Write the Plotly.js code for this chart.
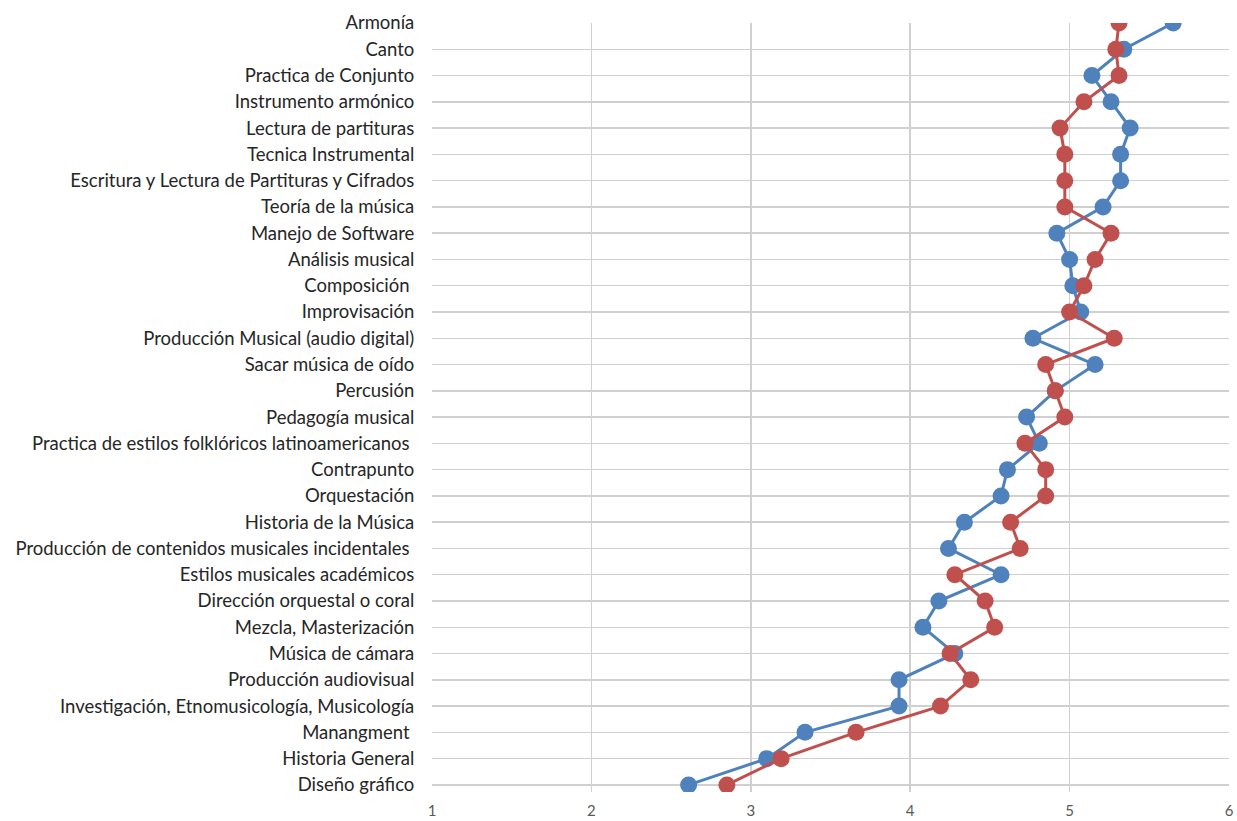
<!DOCTYPE html>
<html>
<head>
<meta charset="utf-8">
<script src="https://cdn.plot.ly/plotly-3.0.1.min.js"></script>
<style>html,body{margin:0;padding:0;background:#fff;}#chart{width:1237px;height:821px;}</style>
</head>
<body>
<div id="chart"></div>
<script>
const categories = [
  "Armonía","Canto","Practica de Conjunto","Instrumento armónico","Lectura de partituras",
  "Tecnica Instrumental","Escritura y Lectura de Partituras y Cifrados","Teoría de la música",
  "Manejo de Software","Análisis musical","Composición ","Improvisación",
  "Producción Musical (audio digital)","Sacar música de oído","Percusión","Pedagogía musical",
  "Practica de estilos folklóricos latinoamericanos ","Contrapunto","Orquestación",
  "Historia de la Música","Producción de contenidos musicales incidentales ",
  "Estilos musicales académicos","Dirección orquestal o coral","Mezcla, Masterización",
  "Música de cámara","Producción audiovisual","Investigación, Etnomusicología, Musicología",
  "Manangment ","Historia General","Diseño gráfico"
];
const seriesBlue = [5.65,5.34,5.14,5.26,5.38,5.32,5.32,5.21,4.92,5.00,5.02,5.07,4.77,5.16,4.91,4.73,4.81,4.61,4.57,4.34,4.24,4.57,4.18,4.08,4.28,3.93,3.93,3.34,3.10,2.61];
const seriesRed  = [5.31,5.29,5.31,5.09,4.94,4.97,4.97,4.97,5.26,5.16,5.09,5.00,5.28,4.85,4.91,4.97,4.72,4.85,4.85,4.63,4.69,4.28,4.47,4.53,4.25,4.38,4.19,3.66,3.19,2.85];
const xTicks = [1,2,3,4,5,6];

const n = categories.length;
const pos = categories.map((c,i)=> n-1-i);

const blue = "#4F81BD", red = "#C0504D";
const traces = [
  {x: seriesBlue, y: pos, type:'scatter', mode:'lines+markers',
   line:{color:blue, width:3}, marker:{color:blue, size:17}, hoverinfo:'skip'},
  {x: seriesRed, y: pos, type:'scatter', mode:'lines+markers',
   line:{color:red, width:3}, marker:{color:red, size:17}, hoverinfo:'skip'}
];
const layout = {
  width:1237, height:821,
  margin:{l:432, r:8, t:23, b:29},
  paper_bgcolor:'#fff', plot_bgcolor:'#fff',
  showlegend:false,
  font:{family:'Lato, "Open Sans", sans-serif', color:'#404040', size:15},
  xaxis:{range:[1,6], tickvals:xTicks, ticktext:xTicks.map(String),
    showgrid:true, gridcolor:'#d0d0d0', gridwidth:1.5, zeroline:false,
    showline:false, ticks:'outside', ticklen:5, tickcolor:'rgba(0,0,0,0)',
    tickfont:{size:15, color:'#595959'}, fixedrange:true},
  yaxis:{range:[-0.27, n-1], tickvals:pos, ticktext:categories,
    showgrid:true, gridcolor:'#d0d0d0', gridwidth:1.5, zeroline:false,
    showline:false, ticks:'outside', ticklen:13, tickcolor:'rgba(0,0,0,0)',
    tickfont:{size:18.5, color:'#262626'}, automargin:false, fixedrange:true}
};
Plotly.newPlot('chart', traces, layout, {staticPlot:true, displayModeBar:false});
</script>
</body>
</html>
